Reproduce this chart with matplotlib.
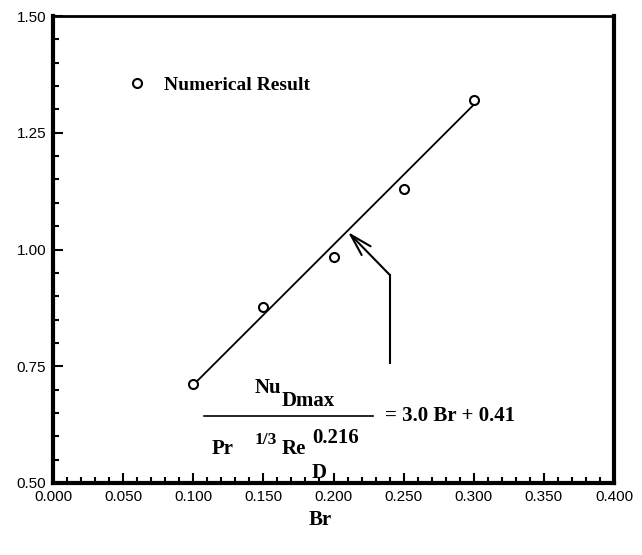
import matplotlib
matplotlib.use("Agg")
from matplotlib import pyplot as plt
from matplotlib.ticker import MultipleLocator, FormatStrFormatter

# numerical results, Nu_Dmax / (Pr^1/3 Re_D^0.216) against Br
br = [0.10, 0.15, 0.20, 0.25, 0.30]
nu_scaled = [0.712, 0.877, 0.984, 1.130, 1.320]

# correlation: 3.0 Br + 0.41
fit_slope = 3.0
fit_const = 0.41
fit_br = [0.10, 0.30]
fit_nu = [fit_slope * b + fit_const for b in fit_br]

serif = "Liberation Serif"

fig = plt.figure(figsize=(6.42, 5.55), dpi=100)
ax = fig.add_axes([53 / 642, 1 - 483 / 555, 561 / 642, 467 / 555])

ax.plot(br, nu_scaled, "o", mfc="white", mec="black", mew=1.5, ms=6.5,
        label="Numerical Result", zorder=3)
ax.plot(fit_br, fit_nu, "-", color="black", lw=1.3)

ax.set_xlim(0.0, 0.4)
ax.set_ylim(0.5, 1.5)

ax.xaxis.set_major_locator(MultipleLocator(0.05))
ax.xaxis.set_minor_locator(MultipleLocator(0.01))
ax.yaxis.set_major_locator(MultipleLocator(0.25))
ax.yaxis.set_minor_locator(MultipleLocator(0.05))
ax.xaxis.set_major_formatter(FormatStrFormatter("%.3f"))
ax.yaxis.set_major_formatter(FormatStrFormatter("%.2f"))

ax.tick_params(which="both", direction="in", top=False, right=False,
               width=1.5, labelsize=11)
ax.tick_params(which="major", length=7)
ax.tick_params(which="minor", length=4)
ax.tick_params(axis="x", pad=5)
ax.tick_params(axis="y", pad=5)
for lab in ax.get_xticklabels() + ax.get_yticklabels():
    lab.set_family("Liberation Sans")

for side in ["left", "bottom", "right"]:
    ax.spines[side].set_linewidth(3)
ax.spines["top"].set_linewidth(2)

ax.legend(loc="center left", bbox_to_anchor=(0.135, 0.852), frameon=False,
          handlelength=0.8, handletextpad=1.0, borderpad=0, borderaxespad=0,
          numpoints=1, prop={"family": serif, "weight": "bold", "size": 14})

# arrow pointing at the correlation line
ax.plot([0.2403, 0.2403], [0.757, 0.945], color="black", lw=1.5)
ax.annotate("", xy=(0.2103, 1.0375), xytext=(0.2403, 0.945),
            arrowprops=dict(arrowstyle="->,head_length=1.6,head_width=0.45",
                            color="black", lw=1.5, shrinkA=0, shrinkB=0))

# correlation written as a fraction
tkw = dict(family=serif, weight="bold", color="black", va="center", ha="left")
ax.text(0.1440, 0.703, "Nu", fontsize=15, **tkw)
ax.text(0.1633, 0.676, "Dmax", fontsize=15, **tkw)
ax.plot([0.108, 0.228], [0.643, 0.643], color="black", lw=1.2)
ax.text(0.2367, 0.643, "= 3.0 Br + 0.41", fontsize=15, **tkw)
ax.text(0.1134, 0.572, "Pr", fontsize=15, **tkw)
ax.text(0.1440, 0.592, "1/3", fontsize=12.5, **tkw)
ax.text(0.1633, 0.572, "Re", fontsize=15, **tkw)
ax.text(0.1847, 0.596, "0.216", fontsize=15, **tkw)
ax.text(0.1847, 0.521, "D", fontsize=15, **tkw)

fig.text(320 / 642, 1 - 520 / 555, "Br", family=serif, weight="bold",
         fontsize=15, ha="center", va="center")

fig.savefig("out.png", dpi=100)
